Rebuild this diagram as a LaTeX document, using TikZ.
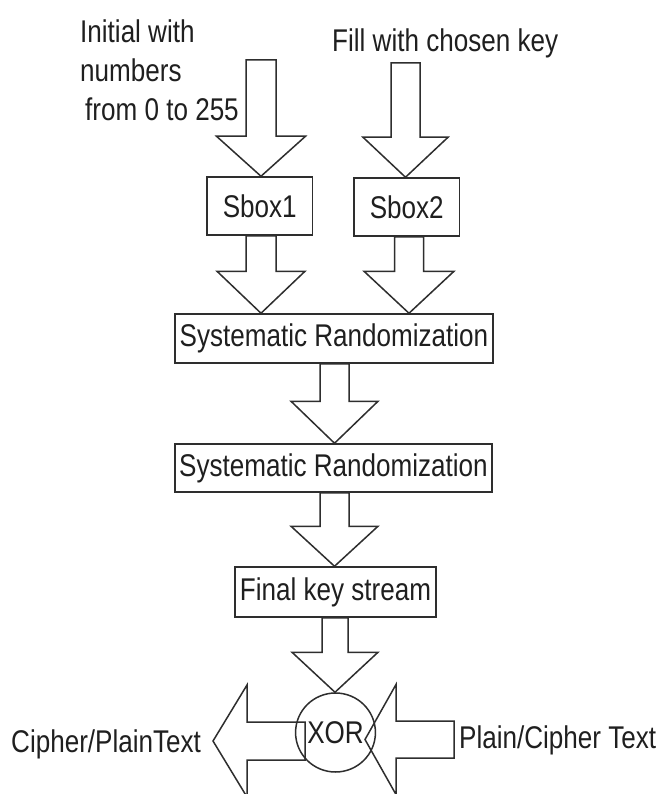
\documentclass[tikz,border=0pt]{standalone}
\usepackage{fontspec}
\setmainfont{Liberation Sans}[FakeStretch=0.83]
\usetikzlibrary{calc,shapes.geometric}
\newcommand\diagfont{\fontsize{31.4}{39}\selectfont}
\tikzset{
  ink/.style={draw=black!82, line width=1.5pt},
  boxnode/.style={ink, rectangle, inner sep=0pt, font=\diagfont, text=black!88},
  blk/.style={ink, line join=miter},
  lbl/.style={inner sep=0pt, font=\diagfont, text=black!88},
}
% vertical block arrow: start (top of shaft), tip, head length, shaft half width, head half width
\newcommand\blkdown[5]{\draw[blk] ($(#1)+(-#4,0)$) -- ($(#1)+(#4,0)$) -- ($(#2)+(#4,-#3)$) -- ($(#2)+(#5,-#3)$) -- (#2) -- ($(#2)+(-#5,-#3)$) -- ($(#2)+(-#4,-#3)$) -- cycle;}
% horizontal block arrow pointing left: start (right end of shaft), tip, head length, shaft half width, head half width
\newcommand\blkleft[5]{\draw[blk] ($(#1)+(0,-#4)$) -- ($(#2)+(#3,-#4)$) -- ($(#2)+(#3,-#5)$) -- (#2) -- ($(#2)+(#3,#5)$) -- ($(#2)+(#3,#4)$) -- ($(#1)+(0,#4)$) -- cycle;}
\begin{document}
\begin{tikzpicture}[x=1pt,y=-1pt]
\useasboundingbox (0,0) rectangle (662,794);
\fill[white] (0,0) rectangle (662,794);
\clip (0,0) rectangle (662,794);

% labels
\node[lbl, anchor=north west, align=left] (init) at (80,19.5) {Initial with\\numbers\\\hspace*{5pt}from 0 to 255};
\node[lbl, anchor=base west] (fill) at (332,52) {Fill with chosen key};
\node[lbl, anchor=base west] (outtxt) at (11,752) {Cipher/PlainText};
\node[lbl, anchor=base west] (intxt) at (459,748) {Plain/Cipher Text};

% boxes
\node[boxnode, minimum width=105.5pt, minimum height=58pt] (sbox1) at (259.75,206) {Sbox1};
\node[boxnode, minimum width=105.5pt, minimum height=58pt] (sbox2) at (406.75,207) {Sbox2};
\node[boxnode, minimum width=318pt, minimum height=49pt] (sys1) at (334,338.5) {Systematic Randomization};
\node[boxnode, minimum width=317pt, minimum height=48pt] (sys2) at (333.5,468) {Systematic Randomization};
\node[boxnode, minimum width=201pt, minimum height=50pt] (final) at (335.5,592) {Final key stream};
\node[ink, ellipse, inner sep=0pt, minimum width=59pt, minimum height=79pt, font=\diagfont, text=black!88] (xor) at (335.5,732.5) {XOR};

% arrow end points
\coordinate (a1s) at (261,60);      \coordinate (a1t) at (a1s |- sbox1.north);
\coordinate (a2s) at (405.5,63);    \coordinate (a2t) at (a2s |- sbox2.north);
\coordinate (a3s) at (261,0 |- sbox1.south);   \coordinate (a3t) at (a3s |- sys1.north);
\coordinate (a4s) at (409,0 |- sbox2.south);   \coordinate (a4t) at (a4s |- sys1.north);
\coordinate (a5s) at (334.5,0 |- sys1.south);  \coordinate (a5t) at (a5s |- sys2.north);
\coordinate (a6s) at (334.5,0 |- sys2.south);  \coordinate (a6t) at (a6s |- final.north);
\coordinate (a7s) at (335,0 |- final.south);   \coordinate (a7t) at (a7s |- xor.north);
\coordinate (l1s) at (305,741);     \coordinate (l1t) at (213,741);
\coordinate (l2s) at (454,739.5);   \coordinate (l2t) at (365,739.5);

% block arrows
\blkdown{a1s}{a1t}{40}{15}{44.5}
\blkdown{a2s}{a2t}{40}{14.5}{42.5}
\blkdown{a3s}{a3t}{42}{15}{44}
\blkdown{a4s}{a4t}{42}{14.5}{45}
\blkdown{a5s}{a5t}{42}{14.5}{43.5}
\blkdown{a6s}{a6t}{40}{14.5}{43.5}
\blkdown{a7s}{a7t}{40}{13}{43}
\blkleft{l1s}{l1t}{34}{19}{56}
\blkleft{l2s}{l2t}{31}{18.5}{55}
\end{tikzpicture}
\end{document}
